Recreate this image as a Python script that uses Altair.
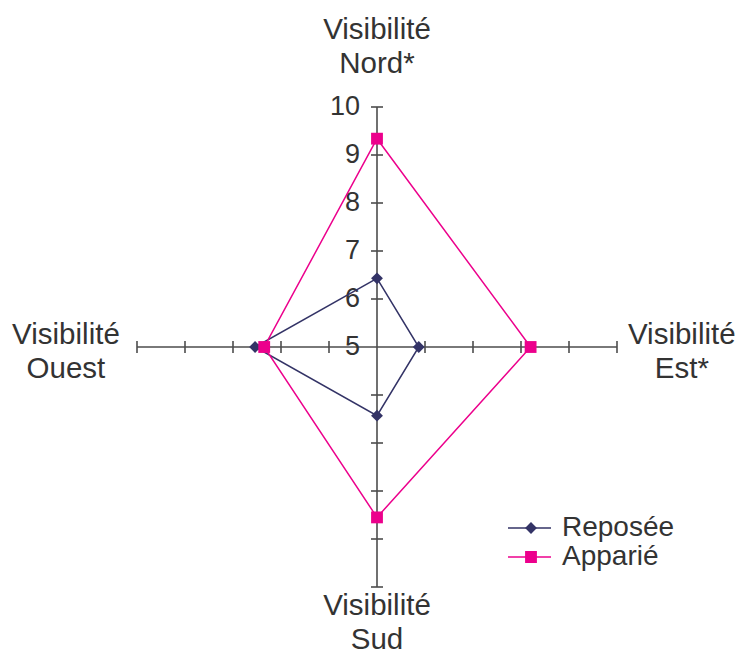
import altair as alt
import pandas as pd

# ---------------- data ----------------
axis_names = ["Nord*", "Est*", "Sud", "Ouest"]   # clockwise from top
axis_prefix = "Visibilité"
series_names = ["Reposée", "Apparié"]
reposee = [6.43, 5.87, 6.43, 7.54]
apparie = [9.34, 8.20, 8.55, 7.35]
scale_values = [5, 6, 7, 8, 9, 10]

# ---------------- style / layout ----------------
series_colors = ["#333366", "#EC008C"]
series_shapes = ["diamond", "square"]
R0, R1 = scale_values[0], scale_values[-1]
SPAN = R1 - R0
# position (in radial units) of the first line of each axis title
title_x = [0.0, 6.35, 0.0, -6.48]
title_y = [6.67, 0.31, -5.33, 0.31]
TICK_HALF = 0.125
FONT = "Liberation Sans"
TEXT_COL = "#333333"
AXIS_COL = "#4d4d4d"
MARK_SIZE = 140

# ---------------- tables ----------------
poly_rows = []
for s, vals in zip(series_names, [reposee, apparie]):
    for k in range(len(axis_names) + 1):
        i = k % len(axis_names)
        poly_rows.append({"series": s, "k": k, "axis": i, "value": vals[i]})
poly = pd.DataFrame(poly_rows)

axes_df = pd.DataFrame({"axis": list(range(len(axis_names))), "name": axis_names,
                        "tx": title_x, "ty": title_y})
tick_df = pd.DataFrame([{"axis": i, "v": v} for i in range(len(axis_names))
                        for v in scale_values[1:]])
lab_df = pd.DataFrame({"v": scale_values})

xs = alt.Scale(domain=[-SPAN, SPAN], nice=False, zero=False)
ys = alt.Scale(domain=[-SPAN, SPAN], nice=False, zero=False)
ang = "datum.axis * PI / 2"

def X(f):
    return alt.X(f"{f}:Q", scale=xs, axis=None)

def Y(f):
    return alt.Y(f"{f}:Q", scale=ys, axis=None)

# axes
axes_layer = alt.Chart(axes_df).transform_calculate(
    a=ang, zero="0",
).transform_calculate(
    ex=f"{SPAN} * sin(datum.a)", ey=f"{SPAN} * cos(datum.a)"
).mark_rule(color=AXIS_COL, strokeWidth=1.6).encode(
    x=X("zero"), y=Y("zero"), x2="ex:Q", y2="ey:Q"
)

# tick marks
ticks_layer = alt.Chart(tick_df).transform_calculate(
    a=ang, r=f"datum.v - {R0}"
).transform_calculate(
    x1=f"datum.r*sin(datum.a) - {TICK_HALF}*cos(datum.a)",
    y1=f"datum.r*cos(datum.a) + {TICK_HALF}*sin(datum.a)",
    x2=f"datum.r*sin(datum.a) + {TICK_HALF}*cos(datum.a)",
    y2=f"datum.r*cos(datum.a) - {TICK_HALF}*sin(datum.a)",
).mark_rule(color=AXIS_COL, strokeWidth=1.6).encode(
    x=X("x1"), y=Y("y1"), x2="x2:Q", y2="y2:Q"
)

# scale labels along Nord axis
labels_layer = alt.Chart(lab_df).transform_calculate(
    px="0", py=f"datum.v - {R0}"
).mark_text(align="right", baseline="middle", dx=-17, font=FONT, fontSize=27,
            color=TEXT_COL).encode(
    x=X("px"), y=Y("py"), text="v:Q"
)

# axis titles
titles_layer = alt.Chart(axes_df).transform_calculate(
    label=f"'{axis_prefix}\\n' + datum.name"
).mark_text(align="center", baseline="middle", dy=3, lineBreak="\n", lineHeight=34,
            font=FONT, fontSize=29.5, color=TEXT_COL).encode(
    x=X("tx"), y=Y("ty"), text="label:N"
)

poly_calc = alt.Chart(poly).transform_calculate(
    a=ang, r=f"datum.value - {R0}"
).transform_calculate(
    px="datum.r * sin(datum.a)", py="datum.r * cos(datum.a)"
)

line_legend = alt.Legend(
    orient="none", legendX=370, legendY=406.5, title=None, padding=0, rowPadding=0,
    symbolType="stroke", symbolSize=1849, symbolStrokeWidth=1.5, clipHeight=29,
    labelFont=FONT, labelFontSize=28, labelColor=TEXT_COL, labelOffset=10,
)
lines_layer = poly_calc.mark_line(strokeWidth=1.5).encode(
    x=X("px"), y=Y("py"), order="k:Q",
    stroke=alt.Stroke("series:N", sort=series_names, scale=alt.Scale(range=series_colors),
                      legend=line_legend),
)

# marker-only legend overlaid on the line legend (labels left empty)
point_legend = alt.Legend(
    orient="none", legendX=380, legendY=406.5, title=None, padding=0, rowPadding=0,
    symbolSize=MARK_SIZE, symbolStrokeWidth=0, clipHeight=29,
    labelFont=FONT, labelFontSize=28, labelExpr="''", labelOffset=10,
)
points_layer = poly_calc.transform_filter(f"datum.k < {len(axis_names)}").mark_point(
    filled=True, size=MARK_SIZE, opacity=1
).encode(
    x=X("px"), y=Y("py"),
    fill=alt.Fill("series:N", scale=alt.Scale(domain=series_names, range=series_colors),
                  legend=point_legend),
    shape=alt.Shape("series:N", scale=alt.Scale(domain=series_names, range=series_shapes),
                    legend=point_legend),
)

chart = alt.layer(
    axes_layer, ticks_layer, labels_layer, titles_layer, lines_layer, points_layer
).properties(
    width=480, height=480,
    autosize=alt.AutoSizeParams(type="none"),
    padding={"left": 129, "top": 99, "right": 120, "bottom": 68},
    background="white",
).configure_view(stroke=None)

chart.save("out.html", embed_options={"renderer": "svg", "actions": False})
